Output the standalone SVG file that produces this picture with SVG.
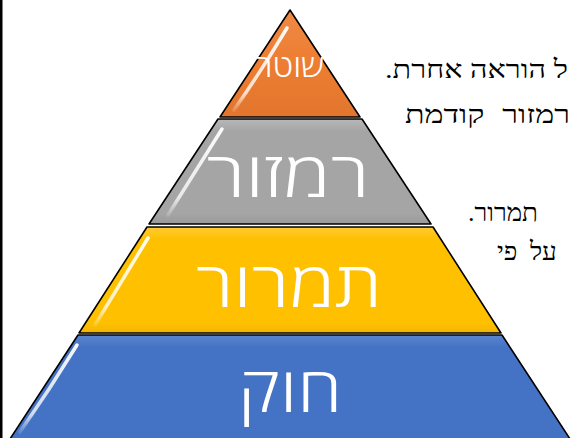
<svg xmlns="http://www.w3.org/2000/svg" width="571" height="438" viewBox="0 0 571 438">
<defs>
<linearGradient id="gOr" x1="0" y1="0" x2="0" y2="1"><stop offset="0" stop-color="#F08A45"/><stop offset="0.5" stop-color="#ED7D31"/><stop offset="1" stop-color="#E2762E"/></linearGradient>
<linearGradient id="gGr" x1="0" y1="0" x2="0" y2="1"><stop offset="0" stop-color="#B8B8B8"/><stop offset="0.12" stop-color="#A5A5A5"/><stop offset="0.9" stop-color="#A5A5A5"/><stop offset="1" stop-color="#9A9A9A"/></linearGradient>
<linearGradient id="gYe" x1="0" y1="0" x2="0" y2="1"><stop offset="0" stop-color="#FFCB33"/><stop offset="0.12" stop-color="#FFC000"/><stop offset="0.9" stop-color="#FFC000"/><stop offset="1" stop-color="#F2B600"/></linearGradient>
<linearGradient id="gBl" x1="0" y1="0" x2="0" y2="1"><stop offset="0" stop-color="#5A84CE"/><stop offset="0.12" stop-color="#4472C4"/><stop offset="1" stop-color="#4472C4"/></linearGradient>
<linearGradient id="hl" x1="0" y1="0" x2="0" y2="1"><stop offset="0" stop-color="#fff" stop-opacity="0.95"/><stop offset="0.8" stop-color="#fff" stop-opacity="0.75"/><stop offset="1" stop-color="#fff" stop-opacity="0.15"/></linearGradient>
</defs>
<style>
.layer{stroke:#000;stroke-width:1.6;stroke-linejoin:round}
.shine{fill:none;stroke:url(#hl);stroke-width:3.5;stroke-linecap:round}
.lbl{font-family:"Open Sans","DejaVu Sans",sans-serif;font-weight:300;fill:#fff;text-anchor:middle}
.side{font-family:"Liberation Serif","DejaVu Serif",serif;font-size:26px;fill:#000}
</style>
<rect x="0" y="0" width="2.5" height="438" fill="#000"/>
<g id="layer-shoter">
<path class="layer" d="M290,10 L360,117 L220,117 Z" fill="url(#gOr)"/>
<path class="shine" d="M287,28 Q262,70 234,110"/>
<text class="lbl" x="290" y="77" font-size="32" direction="rtl" textLength="68" lengthAdjust="spacingAndGlyphs">שוטר</text>
</g>
<g id="layer-ramzor">
<path class="layer" d="M218,119 L362,119 L431,224 L149,224 Z" fill="url(#gGr)"/>
<path class="shine" d="M222,129 Q195,172 168,215"/>
<text class="lbl" x="288" y="197" font-size="63" direction="rtl" textLength="163" lengthAdjust="spacingAndGlyphs">רמזור</text>
</g>
<g id="layer-tamrur">
<path class="layer" d="M147,227 L433,227 L501,333 L79,333 Z" fill="url(#gYe)"/>
<path class="shine" d="M148,238 Q122,281 95,325"/>
<text class="lbl" x="289" y="307" font-size="63" direction="rtl" textLength="186" lengthAdjust="spacingAndGlyphs">תמרור</text>
</g>
<g id="layer-hok">
<path class="layer" d="M78,335 L502,335 L572,442 L8,442 Z" fill="url(#gBl)"/>
<path class="shine" d="M77,345 Q50,389 20,432"/>
<text class="lbl" x="290" y="412" font-size="63" direction="rtl" textLength="104" lengthAdjust="spacingAndGlyphs">חוק</text>
</g>
<g id="side-text">
<text class="side" x="385" y="78" direction="rtl" text-anchor="end" textLength="183" lengthAdjust="spacingAndGlyphs">ל הוראה אחרת.</text>
<text class="side" x="405" y="123" direction="rtl" text-anchor="end" word-spacing="8" textLength="165" lengthAdjust="spacingAndGlyphs">רמזור קודמת</text>
<text class="side" x="468" y="221" direction="rtl" text-anchor="end">תמרור.</text>
<text class="side" x="497" y="260" direction="rtl" text-anchor="end" word-spacing="6">על פי</text>
</g>
</svg>
